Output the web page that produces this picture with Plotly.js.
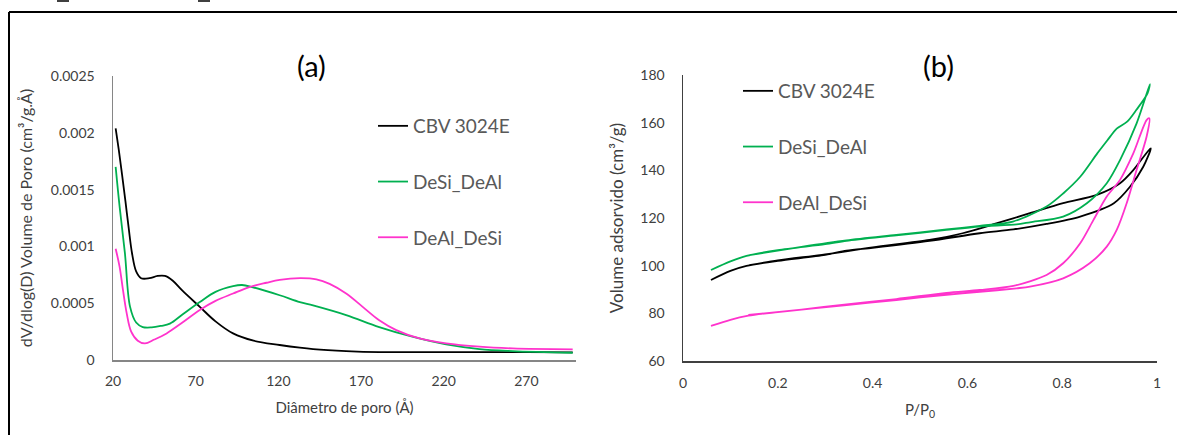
<!DOCTYPE html>
<html>
<head>
<meta charset="utf-8">
<script src="https://cdn.plot.ly/plotly-3.0.1.min.js"></script>
<style>
html,body{margin:0;padding:0;background:#fff;}
#chart{width:1177px;height:435px;}
</style>
</head>
<body>
<div id="chart"></div>
<script>
// ---------- (a) pore size distribution ----------
const seriesNames = ["CBV 3024E", "DeSi_DeAl", "DeAl_DeSi"];
const seriesColors = ["#000000", "#00B050", "#FF33CC"];

const cbvDiam = [21.6, 23.5, 25.5, 27.5, 29.5, 31.5, 34, 37, 42, 47, 51.4, 56, 62, 72.5, 82, 92.6, 105, 120.8, 133, 141, 161, 181, 200, 240, 270, 298];
const cbvDv   = [0.00204, 0.00185, 0.00163, 0.00140, 0.00116, 0.00094, 0.00078, 0.00072, 0.00072, 0.00074, 0.00074, 0.00070, 0.00061, 0.000468, 0.00034, 0.000234, 0.00017, 0.000132, 0.000108, 0.000096, 0.000079, 0.00007, 0.00007, 0.000069, 0.000069, 0.000068];

const desiDiam = [21.6, 24, 27.2, 30.3, 34, 38, 43.4, 49, 54.4, 62, 72.5, 82, 92.6, 98, 104.7, 120.8, 133, 141, 161, 181, 201, 221.5, 241.6, 261.7, 298];
const desiDv   = [0.0017, 0.00135, 0.00094, 0.00047, 0.00033, 0.00029, 0.000287, 0.0003, 0.00032, 0.0004, 0.00051, 0.0006, 0.00065, 0.00066, 0.00064, 0.00057, 0.00051, 0.00048, 0.000395, 0.00029, 0.000205, 0.000137, 0.000096, 0.000079, 0.000064];

const dealDiam = [21.6, 24, 26, 28.3, 31, 35, 39.3, 45, 52.4, 62, 72.5, 82, 92.6, 102, 112.8, 120.8, 133, 143, 151, 161, 171, 181, 191.3, 205.4, 221.5, 241.6, 261.7, 298];
const dealDv   = [0.00098, 0.00082, 0.00062, 0.00041, 0.00025, 0.00017, 0.000146, 0.00018, 0.000234, 0.00033, 0.00044, 0.00052, 0.000585, 0.00064, 0.00068, 0.000705, 0.00072, 0.00071, 0.00067, 0.000585, 0.000468, 0.00035, 0.000263, 0.00019, 0.000146, 0.000117, 0.000102, 0.000094];

// ---------- (b) N2 isotherms (adsorption then desorption) ----------
const cbvP = [0.059, 0.1, 0.134, 0.2, 0.3, 0.345, 0.4, 0.52, 0.626, 0.697, 0.767, 0.838, 0.909, 0.943, 0.971, 0.987,
              0.98, 0.95, 0.922, 0.873, 0.802, 0.732, 0.661, 0.59, 0.52, 0.4, 0.3, 0.2, 0.14];
const cbvV = [94, 97.8, 99.9, 102, 104.5, 106.3, 107.5, 110.4, 113.6, 115.2, 117.5, 120.6, 126.2, 133.1, 141.5, 149.2,
              147.8, 140.1, 134.6, 129.7, 126.2, 122, 117.7, 113.6, 110.8, 107.7, 104.7, 102.2, 100.2];

const desiP = [0.059, 0.1, 0.134, 0.2, 0.3, 0.345, 0.45, 0.556, 0.626, 0.704, 0.732, 0.802, 0.852, 0.894, 0.922, 0.957, 0.985,
               0.98, 0.957, 0.937, 0.915, 0.895, 0.874, 0.838, 0.802, 0.767, 0.696, 0.626, 0.556, 0.45, 0.345, 0.25, 0.14];
const desiV = [98.2, 101.8, 104.1, 106.5, 109, 110.4, 112.7, 115, 116.4, 117.3, 118.2, 120.6, 126.2, 134.6, 144.3, 159.7, 176.2,
               172.3, 165.5, 160.4, 157.5, 152.5, 147.1, 137.3, 130.3, 124.8, 118.5, 116.7, 115.2, 112.9, 110.6, 107.9, 104.4];

const dealP = [0.059, 0.1, 0.138, 0.2, 0.345, 0.45, 0.556, 0.626, 0.704, 0.732, 0.802, 0.858, 0.894, 0.915, 0.936, 0.957, 0.978, 0.984,
               0.978, 0.95, 0.922, 0.894, 0.866, 0.838, 0.802, 0.767, 0.697, 0.626, 0.556, 0.45, 0.345, 0.25, 0.138];
const dealV = [74.7, 77.3, 79, 80.5, 83.5, 85.6, 87.8, 89.0, 90.5, 91.2, 94.7, 101, 108, 115, 126.2, 140.2, 154.1, 161.8,
               161.1, 147.1, 136, 129, 119.2, 109.4, 101, 96.1, 91.5, 89.8, 88.6, 86, 83.8, 81.6, 79.3];

const aX = [cbvDiam, desiDiam, dealDiam];
const aY = [cbvDv, desiDv, dealDv];
const bX = [cbvP, desiP, dealP];
const bY = [cbvV, desiV, dealV];

const FONT = "Lato, 'Open Sans', sans-serif";
const traces = [];
for (let i = 0; i < 3; i++) {
  traces.push({
    x: aX[i], y: aY[i], type: "scatter", mode: "lines",
    line: {color: seriesColors[i], width: 1.8, shape: "spline", smoothing: 1},
    name: seriesNames[i], xaxis: "x", yaxis: "y",
    legend: "legend", legendgroup: "a" + i, showlegend: true
  });
}
for (let i = 0; i < 3; i++) {
  traces.push({
    x: bX[i], y: bY[i], type: "scatter", mode: "lines",
    line: {color: seriesColors[i], width: 1.8, shape: "spline", smoothing: 0.8},
    name: seriesNames[i], xaxis: "x2", yaxis: "y2",
    legend: "legend2", legendgroup: "b" + i, showlegend: true
  });
}

const W = 1177, H = 435;
const px = v => v / W, py = v => 1 - v / H;

const tickFont = {family: FONT, size: 14, color: "#404040"};
const legFont = {family: FONT, size: 19, color: "#595959"};

const layout = {
  width: W, height: H,
  margin: {l: 0, r: 0, t: 0, b: 0},
  paper_bgcolor: "#ffffff", plot_bgcolor: "#ffffff",
  showlegend: true,
  xaxis: {
    domain: [px(113), px(576)], anchor: "y",
    range: [20, 300], tickvals: [20, 70, 120, 170, 220, 270],
    showline: true, linecolor: "#868686", linewidth: 1.5, showgrid: false, zeroline: false,
    ticks: "", tickfont: tickFont, ticklabelstandoff: 8,
    title: {text: "Diâmetro de poro (Å)", font: {family: FONT, size: 15, color: "#404040"}, standoff: 14}
  },
  yaxis: {
    domain: [py(360), py(76)], anchor: "x",
    range: [0, 0.0025], tickvals: [0, 0.0005, 0.001, 0.0015, 0.002, 0.0025],
    ticktext: ["0", "0.0005", "0.001", "0.0015", "0.002", "0.0025"],
    showline: true, linecolor: "#868686", linewidth: 1.5, showgrid: false, zeroline: false,
    ticks: "", tickfont: tickFont, ticklabelstandoff: 14,
    title: {text: "dV/dlog(D) Volume de Poro (cm³/g.Å)", font: {family: FONT, size: 16, color: "#404040"}, standoff: 14}
  },
  xaxis2: {
    domain: [px(683), px(1157)], anchor: "y2",
    range: [0, 1], tickvals: [0, 0.2, 0.4, 0.6, 0.8, 1],
    showline: true, linecolor: "#404040", linewidth: 1.5, showgrid: false, zeroline: false,
    ticks: "", tickfont: tickFont, ticklabelstandoff: 9,
    title: {text: "P/P<sub>0</sub>", font: {family: FONT, size: 15, color: "#404040"}, standoff: 14}
  },
  yaxis2: {
    domain: [py(361), py(75)], anchor: "x2",
    range: [60, 180], tickvals: [60, 80, 100, 120, 140, 160, 180],
    showline: true, linecolor: "#404040", linewidth: 1.5, showgrid: false, zeroline: false,
    ticks: "", tickfont: tickFont, ticklabelstandoff: 14,
    title: {text: "Volume adsorvido (cm³/g)", font: {family: FONT, size: 17, color: "#404040"}, standoff: 12}
  },
  legend: {
    x: px(373), y: py(107), xanchor: "left", yanchor: "top",
    font: legFont, bgcolor: "rgba(0,0,0,0)", tracegroupgap: 28
  },
  legend2: {
    x: px(738), y: py(72), xanchor: "left", yanchor: "top",
    font: legFont, bgcolor: "rgba(0,0,0,0)", tracegroupgap: 28
  },
  annotations: [
    {text: "(a)", x: px(311), y: py(66), xref: "paper", yref: "paper", showarrow: false,
     font: {family: FONT, size: 29, color: "#000000"}, xanchor: "center", yanchor: "middle"},
    {text: "(b)", x: px(938), y: py(65), xref: "paper", yref: "paper", showarrow: false,
     font: {family: FONT, size: 29, color: "#000000"}, xanchor: "center", yanchor: "middle"}
  ],
  shapes: [
    {type: "line", xref: "paper", yref: "paper", x0: px(9), x1: 1, y0: py(12), y1: py(12), line: {color: "#000", width: 2}},
    {type: "line", xref: "paper", yref: "paper", x0: px(9), x1: px(9), y0: py(12), y1: 0, line: {color: "#000", width: 2}},
    {type: "line", xref: "paper", yref: "paper", x0: px(57), x1: px(69), y0: py(1), y1: py(1), line: {color: "#000", width: 1.5}},
    {type: "line", xref: "paper", yref: "paper", x0: px(198), x1: px(210), y0: py(1), y1: py(1), line: {color: "#000", width: 1.5}}
  ]
};

Plotly.newPlot("chart", traces, layout, {displayModeBar: false, staticPlot: true});
</script>
</body>
</html>
